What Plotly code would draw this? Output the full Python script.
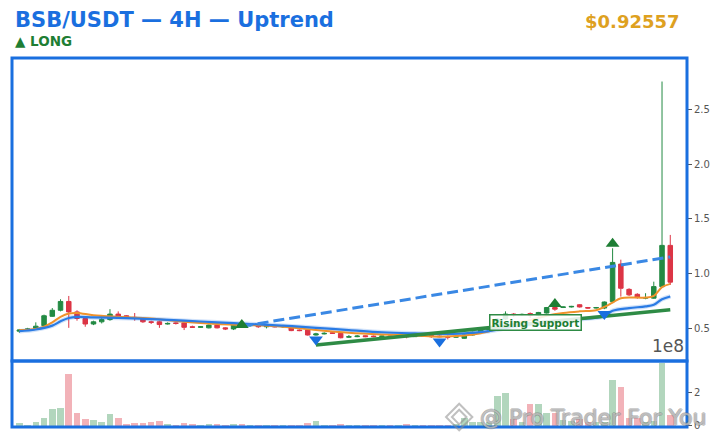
import plotly.graph_objects as go

# candle index (4H bars)
idx = list(range(80))

opens = [0.48, 0.49, 0.505, 0.53, 0.615, 0.67, 0.75, 0.655, 0.595, 0.545,
         0.565, 0.585, 0.635, 0.62, 0.605, 0.595, 0.565, 0.565, 0.545, 0.555,
         0.555, 0.52, 0.515, 0.51, 0.535, 0.51, 0.50, 0.55, 0.53, 0.535,
         0.52, 0.525, 0.52, 0.52, 0.49, 0.49, 0.445, 0.455, 0.465, 0.46,
         0.425, 0.43, 0.438, 0.435, 0.432, 0.435, 0.433, 0.435, 0.43, 0.44,
         0.44, 0.435, 0.43, 0.425, 0.415, 0.445, 0.47, 0.49, 0.515, 0.59,
         0.635, 0.63, 0.64, 0.625, 0.645, 0.695, 0.695, 0.70, 0.72, 0.695,
         0.69, 0.69, 0.748, 1.09, 0.86, 0.815, 0.78, 0.78, 0.885, 1.26]
highs = [0.50, 0.51, 0.56, 0.63, 0.69, 0.77, 0.80, 0.67, 0.60, 0.575,
         0.60, 0.68, 0.66, 0.625, 0.645, 0.60, 0.575, 0.575, 0.56, 0.56,
         0.565, 0.53, 0.525, 0.54, 0.54, 0.515, 0.555, 0.56, 0.54, 0.54,
         0.53, 0.53, 0.525, 0.525, 0.495, 0.50, 0.465, 0.47, 0.47, 0.465,
         0.445, 0.445, 0.44, 0.44, 0.44, 0.44, 0.44, 0.44, 0.445, 0.445,
         0.445, 0.44, 0.44, 0.44, 0.45, 0.475, 0.495, 0.52, 0.60, 0.66,
         0.645, 0.64, 0.65, 0.655, 0.70, 0.70, 0.705, 0.71, 0.725, 0.70,
         0.70, 0.75, 1.234, 1.13, 0.87, 0.825, 0.825, 0.93, 2.75, 1.355]
lows = [0.465, 0.485, 0.50, 0.525, 0.61, 0.66, 0.51, 0.575, 0.52, 0.535,
        0.55, 0.575, 0.595, 0.60, 0.575, 0.555, 0.545, 0.51, 0.54, 0.54,
        0.49, 0.51, 0.51, 0.505, 0.505, 0.49, 0.49, 0.525, 0.52, 0.51,
        0.505, 0.515, 0.51, 0.48, 0.48, 0.44, 0.44, 0.45, 0.455, 0.415,
        0.42, 0.425, 0.425, 0.425, 0.43, 0.43, 0.43, 0.415, 0.428, 0.435,
        0.42, 0.425, 0.405, 0.42, 0.41, 0.44, 0.465, 0.485, 0.51, 0.58,
        0.61, 0.62, 0.60, 0.615, 0.64, 0.665, 0.69, 0.695, 0.695, 0.685,
        0.685, 0.68, 0.74, 0.794, 0.80, 0.775, 0.77, 0.775, 0.875, 0.90]
closes = [0.49, 0.50, 0.525, 0.62, 0.67, 0.75, 0.655, 0.595, 0.545, 0.565,
          0.585, 0.635, 0.615, 0.605, 0.595, 0.565, 0.56, 0.54, 0.55, 0.55,
          0.515, 0.515, 0.52, 0.535, 0.51, 0.50, 0.55, 0.53, 0.535, 0.52,
          0.525, 0.52, 0.522, 0.485, 0.485, 0.445, 0.455, 0.46, 0.46, 0.42,
          0.43, 0.435, 0.43, 0.43, 0.435, 0.433, 0.436, 0.43, 0.44, 0.438,
          0.43, 0.43, 0.425, 0.43, 0.445, 0.47, 0.49, 0.515, 0.59, 0.635,
          0.63, 0.632, 0.625, 0.65, 0.695, 0.68, 0.70, 0.705, 0.70, 0.69,
          0.695, 0.745, 1.105, 0.87, 0.81, 0.785, 0.785, 0.885, 1.26, 0.92557]
volume_e8 = [0.18, 0.06, 0.24, 0.47, 1.0, 1.07, 3.08, 0.77, 0.41, 0.36,
             0.24, 0.71, 0.47, 0.12, 0.18, 0.18, 0.24, 0.30, 0.12, 0.06,
             0.18, 0.12, 0.06, 0.12, 0.12, 0.06, 0.12, 0.12, 0.06, 0.06,
             0.06, 0.02, 0.02, 0.06, 0.06, 0.18, 0.30, 0.02, 0.06, 0.12,
             0.06, 0.06, 0.06, 0.06, 0.02, 0.06, 0.06, 0.12, 0.06, 0.02,
             0.02, 0.06, 0.06, 0.12, 0.44, 0.20, 0.22, 0.24, 1.80, 1.96,
             0.38, 0.20, 1.30, 1.30, 0.78, 0.78, 0.34, 0.30, 0.40, 0.20,
             0.20, 0.25, 2.74, 2.34, 0.48, 0.48, 0.20, 0.30, 3.78, 0.64]

# moving averages
ema_fast_idx = [0, 2, 3, 4, 5, 6, 7, 9, 12, 16, 20, 24, 28, 32, 36, 40, 44, 48, 51,
                54, 56, 58, 60, 62, 64, 66, 68, 70, 71, 72, 73, 75, 76, 77, 78, 79]
ema_fast_val = [0.49, 0.50, 0.52, 0.56, 0.61, 0.64, 0.645, 0.625, 0.61, 0.595, 0.565,
                0.545, 0.535, 0.52, 0.49, 0.465, 0.45, 0.44, 0.43, 0.44, 0.46, 0.50,
                0.55, 0.58, 0.62, 0.645, 0.66, 0.67, 0.70, 0.74, 0.78, 0.785, 0.785,
                0.80, 0.88, 0.91]
ema_slow_idx = [0, 2, 4, 5, 6, 7, 9, 12, 16, 20, 24, 28, 32, 36, 40, 44, 48, 51, 54,
                57, 60, 63, 66, 69, 71, 72, 74, 76, 77, 78, 79]
ema_slow_val = [0.48, 0.495, 0.53, 0.57, 0.60, 0.61, 0.605, 0.60, 0.59, 0.575, 0.56,
                0.545, 0.53, 0.51, 0.49, 0.47, 0.46, 0.455, 0.46, 0.48, 0.52, 0.55,
                0.575, 0.595, 0.615, 0.665, 0.69, 0.705, 0.72, 0.77, 0.795]

# trend lines
support_idx = [36, 79]
support_val = [0.355, 0.675]
trend_idx = [27, 79]
trend_val = [0.525, 1.155]

# signals
buy_idx = [27, 65, 72]
buy_val = [0.536, 0.727, 1.275]
sell_idx = [36, 51, 71]
sell_val = [0.403, 0.385, 0.636]

GREEN = "#238a43"
RED = "#dc3545"
BLUE = "#1a6fdf"
FONT = "DejaVu Sans"

vol_colors = ["rgba(35,138,67,0.35)" if c >= o else "rgba(220,53,69,0.38)"
              for o, c in zip(opens, closes)]

fig = go.Figure()

fig.add_trace(go.Candlestick(
    x=idx, open=opens, high=highs, low=lows, close=closes,
    increasing=dict(line=dict(color=GREEN, width=1), fillcolor=GREEN),
    decreasing=dict(line=dict(color=RED, width=1), fillcolor=RED),
    whiskerwidth=0, showlegend=False, xaxis="x", yaxis="y"))

fig.add_trace(go.Scatter(x=ema_slow_idx, y=ema_slow_val, mode="lines",
                         line=dict(color="rgba(26,111,223,0.2)", width=4.5, shape="spline"),
                         showlegend=False, hoverinfo="skip"))
fig.add_trace(go.Scatter(x=ema_fast_idx, y=ema_fast_val, mode="lines",
                         line=dict(color="#f0922b", width=2, shape="spline"),
                         showlegend=False))
fig.add_trace(go.Scatter(x=ema_slow_idx, y=ema_slow_val, mode="lines",
                         line=dict(color="#2a7be4", width=2.2, shape="spline"),
                         showlegend=False))

fig.add_trace(go.Scatter(x=trend_idx, y=trend_val, mode="lines",
                         line=dict(color="#3a88e4", width=3, dash="11px,5px"),
                         showlegend=False))
fig.add_trace(go.Scatter(x=support_idx, y=support_val, mode="lines",
                         line=dict(color="#2e8b45", width=3.5),
                         showlegend=False))

fig.add_trace(go.Scatter(x=buy_idx, y=buy_val, mode="markers",
                         marker=dict(symbol="triangle-up", size=12, color="#1e7e34"),
                         showlegend=False))
fig.add_trace(go.Scatter(x=sell_idx, y=sell_val, mode="markers",
                         marker=dict(symbol="triangle-down", size=12, color=BLUE),
                         showlegend=False))

fig.add_trace(go.Bar(x=idx, y=volume_e8, marker=dict(color=vol_colors, line=dict(width=0)),
                     width=0.8, showlegend=False, xaxis="x2", yaxis="y2"))

VOL_TOP = 0.179
fig.update_layout(
    width=724, height=443,
    margin=dict(l=12, r=37, t=58, b=16),
    paper_bgcolor="white", plot_bgcolor="white",
    font=dict(family=FONT, color="#555555", size=10),
    xaxis=dict(range=[-0.89, 81.03], domain=[0, 1], anchor="y",
               showticklabels=False, ticks="", showgrid=False, zeroline=False,
               rangeslider=dict(visible=False)),
    xaxis2=dict(range=[-0.89, 81.03], domain=[0, 1], anchor="y2", matches="x",
                showticklabels=False, ticks="", showgrid=False, zeroline=False),
    yaxis=dict(domain=[VOL_TOP, 1], range=[0.209, 2.964], side="right",
               tickvals=[0.5, 1.0, 1.5, 2.0, 2.5], tickformat=".1f",
               ticks="outside", ticklen=4, tickcolor="#555555",
               showgrid=False, zeroline=False, tickfont=dict(size=10, color="#555555")),
    yaxis2=dict(domain=[0, VOL_TOP], range=[-0.078, 3.874], side="right",
                tickvals=[0, 2], ticktext=["0", "2"],
                ticks="outside", ticklen=4, tickcolor="#555555",
                showgrid=False, zeroline=False, tickfont=dict(size=10, color="#555555")),
    bargap=0,
    boxgap=0.22,
)

# panel borders
for y0, y1 in [(VOL_TOP, 1), (0, VOL_TOP)]:
    fig.add_shape(type="rect", xref="paper", yref="paper", x0=0, x1=1, y0=y0, y1=y1,
                  line=dict(color=BLUE, width=3), layer="above")

# watermark logo
cx, cy, w, h = 0.6625, 0.027, 0.0195, 0.036
for s in [1.0, 0.55]:
    fig.add_shape(type="path", xref="paper", yref="paper",
                  path=f"M {cx} {cy + h * s} L {cx + w * s} {cy} L {cx} {cy - h * s} L {cx - w * s} {cy} Z",
                  line=dict(color="rgba(140,140,140,0.55)", width=2), layer="above")

fig.add_annotation(text="Rising Support", x=62.7, y=0.555, xref="x", yref="y",
                   showarrow=False, font=dict(family=FONT, size=10.5, color="#1e7e34", weight="bold"),
                   bgcolor="rgba(255,255,255,0.85)", bordercolor="#2e8b45", borderwidth=1.5,
                   borderpad=1)

fig.add_annotation(text="1e8", x=0.999, y=VOL_TOP + 0.008, xref="paper", yref="paper",
                   xanchor="right", yanchor="bottom", showarrow=False,
                   font=dict(family=FONT, size=17, color="#555555"))

wm_shadow = ("1px 0 0 rgba(110,110,110,0.6), -1px 0 0 rgba(110,110,110,0.6), "
             "0 1px 0 rgba(110,110,110,0.6), 0 -1px 0 rgba(110,110,110,0.6)")
fig.add_annotation(text="@ Pro Trader For You", x=0.691, y=0.026, xref="paper", yref="paper",
                   xanchor="left", yanchor="middle", showarrow=False,
                   font=dict(family=FONT, size=22, color="rgba(215,215,215,0.6)",
                             shadow=wm_shadow))

fig.add_annotation(text="BSB/USDT — 4H — Uptrend", x=0.0015, y=1.103, xref="paper", yref="paper",
                   xanchor="left", yanchor="middle", showarrow=False,
                   font=dict(family=FONT, size=21, color=BLUE, weight="bold"))
fig.add_annotation(text="▲ LONG", x=0.0015, y=1.046, xref="paper", yref="paper",
                   xanchor="left", yanchor="middle", showarrow=False,
                   font=dict(family=FONT, size=13.5, color="#1e7e34", weight="bold"))
fig.add_annotation(text="$0.92557", x=0.9926, y=1.100, xref="paper", yref="paper",
                   xanchor="right", yanchor="middle", showarrow=False,
                   font=dict(family=FONT, size=18, color="#dea11f", weight="bold"))

fig.write_html("out.html", config={"displayModeBar": False},
               post_script="document.body.style.margin='0';")
